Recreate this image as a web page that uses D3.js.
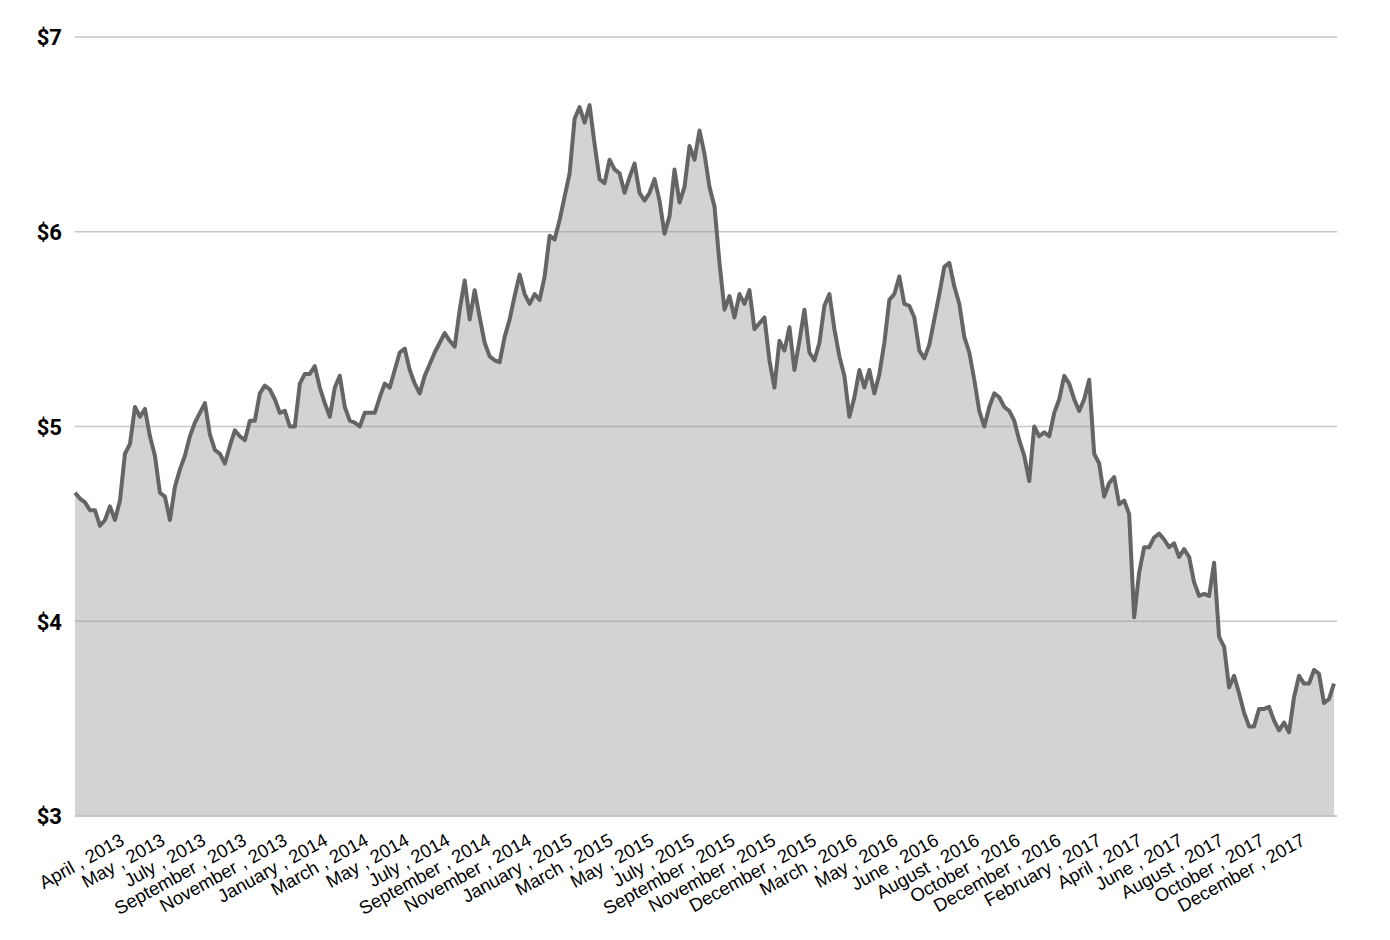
<!DOCTYPE html>
<html>
<head>
<meta charset="utf-8">
<script src="https://cdn.jsdelivr.net/npm/d3@7"></script>
<style>
  html, body { margin: 0; padding: 0; background: #ffffff; }
  svg { display: block; }
</style>
</head>
<body>
<svg id="chart" width="1390" height="940"></svg>
<script>
// Price series (USD), evenly spaced trading observations, April 2013 – December 2017
const prices = [
  4.66,4.63,4.61,4.57,4.57,4.49,4.52,4.59,4.52,4.62,
  4.86,4.91,5.10,5.05,5.09,4.95,4.85,4.66,4.64,4.52,
  4.69,4.78,4.85,4.95,5.02,5.07,5.12,4.96,4.88,4.86,
  4.81,4.90,4.98,4.95,4.93,5.03,5.03,5.17,5.21,5.19,
  5.14,5.07,5.08,5.00,5.00,5.22,5.27,5.27,5.31,5.20,
  5.12,5.05,5.20,5.26,5.10,5.03,5.02,5.00,5.07,5.07,
  5.07,5.15,5.22,5.20,5.29,5.38,5.40,5.29,5.22,5.17,
  5.26,5.32,5.38,5.43,5.48,5.44,5.41,5.60,5.75,5.55,
  5.70,5.56,5.43,5.36,5.34,5.33,5.46,5.55,5.67,5.78,
  5.68,5.63,5.68,5.65,5.77,5.98,5.96,6.06,6.18,6.30,
  6.58,6.64,6.56,6.65,6.45,6.27,6.25,6.37,6.32,6.30,
  6.20,6.28,6.35,6.20,6.16,6.20,6.27,6.16,5.99,6.08,
  6.32,6.15,6.23,6.44,6.37,6.52,6.40,6.23,6.13,5.84,
  5.60,5.67,5.56,5.68,5.63,5.70,5.50,5.53,5.56,5.34,
  5.20,5.44,5.39,5.51,5.29,5.44,5.60,5.38,5.34,5.43,
  5.62,5.68,5.50,5.36,5.26,5.05,5.15,5.29,5.20,5.29,
  5.17,5.27,5.43,5.65,5.68,5.77,5.63,5.62,5.56,5.39,
  5.35,5.42,5.55,5.68,5.82,5.84,5.72,5.63,5.46,5.38,
  5.24,5.08,5.00,5.10,5.17,5.15,5.10,5.08,5.03,4.93,
  4.85,4.72,5.00,4.95,4.97,4.95,5.07,5.14,5.26,5.22,
  5.14,5.08,5.14,5.24,4.86,4.81,4.64,4.71,4.74,4.60,
  4.62,4.55,4.02,4.25,4.38,4.38,4.43,4.45,4.42,4.38,
  4.40,4.33,4.37,4.33,4.20,4.13,4.14,4.13,4.30,3.92,
  3.87,3.66,3.72,3.63,3.53,3.46,3.46,3.55,3.55,3.56,
  3.49,3.44,3.48,3.43,3.61,3.72,3.68,3.68,3.75,3.73,
  3.58,3.60,3.68
];

// X-axis tick labels (as printed on the chart)
const tickLabels = [
  "April , 2013","May , 2013","July , 2013","September , 2013","November , 2013",
  "January , 2014","March , 2014","May , 2014","July , 2014","September , 2014",
  "November , 2014","January , 2015","March , 2015","May , 2015","July , 2015",
  "September , 2015","November , 2015","December , 2015","March , 2016","May , 2016",
  "June , 2016","August , 2016","October , 2016","December , 2016","February , 2017",
  "April , 2017","June , 2017","August , 2017","October , 2017","December , 2017"
];

// Y-axis ticks (USD)
const yTicks = [3, 4, 5, 6, 7];

const svg = d3.select("#chart");
const plotLeft = 75, plotRight = 1337, plotTop = 37, plotBottom = 816;

const x = d3.scaleLinear().domain([0, prices.length - 1]).range([plotLeft, 1334]);
const y = d3.scaleLinear().domain([3, 7]).range([plotBottom, plotTop]);
const xLab = d3.scalePoint().domain(tickLabels).range([125, 1306]);

// Gridlines
svg.append("g")
  .selectAll("line")
  .data(yTicks)
  .join("line")
  .attr("x1", plotLeft)
  .attr("x2", plotRight)
  .attr("y1", d => y(d))
  .attr("y2", d => y(d))
  .attr("stroke", "#c6c6c6")
  .attr("stroke-width", 1.5);

// Area
const area = d3.area()
  .x((d, i) => x(i))
  .y0(y(3))
  .y1(d => y(d));

svg.append("path")
  .datum(prices)
  .attr("d", area)
  .attr("fill", "#d3d3d3");

svg.append("clipPath").attr("id", "areaClip")
  .append("path").datum(prices).attr("d", area);

// Grid lines visible through the area (slightly darker over the fill)
svg.append("g")
  .selectAll("line")
  .data(yTicks)
  .join("line")
  .attr("x1", plotLeft)
  .attr("x2", plotRight)
  .attr("y1", d => y(d))
  .attr("y2", d => y(d))
  .attr("stroke", "#b4b4b4")
  .attr("stroke-width", 1.5)
  .attr("clip-path", "url(#areaClip)");

// Baseline
svg.append("line")
  .attr("x1", plotLeft).attr("x2", plotRight)
  .attr("y1", y(3)).attr("y2", y(3))
  .attr("stroke", "#c6c6c6").attr("stroke-width", 1.5);

// Line
const line = d3.line()
  .x((d, i) => x(i))
  .y(d => y(d));

svg.append("path")
  .datum(prices)
  .attr("d", line)
  .attr("fill", "none")
  .attr("stroke", "#656565")
  .attr("stroke-width", 4)
  .attr("stroke-linejoin", "round");

// Y axis
const yAxis = d3.axisLeft(y)
  .tickValues(yTicks)
  .tickSize(0)
  .tickFormat(d => "$" + d);

const yg = svg.append("g")
  .attr("transform", `translate(62,0)`)
  .call(yAxis);
yg.select(".domain").remove();
yg.selectAll("text")
  .attr("x", 0)
  .attr("dy", "0.36em")
  .attr("fill", "#000")
  .style("font-family", "Roboto, 'Noto Sans', sans-serif")
  .style("font-weight", "700")
  .style("font-size", "22px");

// X axis
const xAxis = d3.axisBottom(xLab).tickSize(0);
const xg = svg.append("g")
  .attr("transform", `translate(0,844)`)
  .call(xAxis);
xg.select(".domain").remove();
xg.selectAll("text")
  .attr("y", 0)
  .attr("dy", 0)
  .attr("transform", "rotate(-29)")
  .attr("text-anchor", "end")
  .attr("fill", "#000")
  .style("font-family", "'Liberation Sans', Arial, sans-serif")
  .style("font-size", "18.5px");
</script>
</body>
</html>
